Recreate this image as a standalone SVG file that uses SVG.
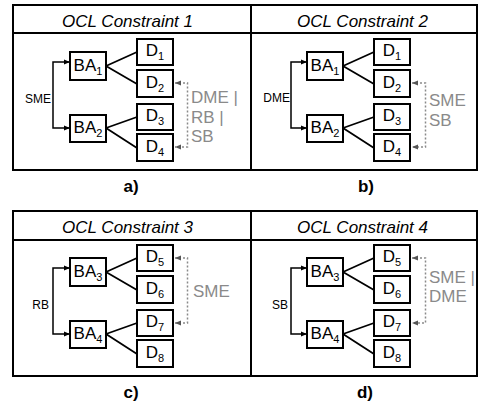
<svg xmlns="http://www.w3.org/2000/svg" width="479" height="401" viewBox="0 0 479 401">
<style>
.frame{fill:none;stroke:#000;stroke-width:2}
.box{fill:#fff;stroke:#000;stroke-width:2}
.t{font-family:"Liberation Sans",Arial,sans-serif;fill:#000}
.lbl{font-size:17px;text-anchor:middle}
.sub{font-size:11px}
.hdr{font-size:17px;font-style:italic;text-anchor:middle}
.cap{font-size:17px;font-weight:bold;text-anchor:middle}
.br{font-size:12px;text-anchor:end}
.gray{font-size:17px;fill:#8a8a8a}
.edge{fill:none;stroke:#000;stroke-width:1.8}
.brk{fill:none;stroke:#000;stroke-width:1.5}
.dash{fill:none;stroke:#8a8a8a;stroke-width:1.5;stroke-dasharray:2,2}
</style>
<defs>
<marker id="ah" viewBox="0 0 10 10" refX="10" refY="5" markerWidth="6" markerHeight="6" markerUnits="userSpaceOnUse" orient="auto-start-reverse"><path d="M0,1 L10,5 L0,9 z" fill="#000"/></marker>
<marker id="ag" viewBox="0 0 10 10" refX="10" refY="5" markerWidth="6" markerHeight="6" markerUnits="userSpaceOnUse" orient="auto-start-reverse"><path d="M0,1 L10,5 L0,9 z" fill="#555"/></marker>
</defs>

<g id="frames">
<rect class="frame" x="13" y="5" width="464" height="165"/>
<line class="frame" x1="13" y1="33" x2="477" y2="33"/>
<line class="frame" x1="251" y1="5" x2="251" y2="170"/>
<rect class="frame" x="13" y="211" width="464" height="165"/>
<line class="frame" x1="13" y1="240" x2="477" y2="240"/>
<line class="frame" x1="251" y1="211" x2="251" y2="376"/>
<text class="t hdr" x="127.5" y="27">OCL Constraint 1</text>
<text class="t hdr" x="362.5" y="27">OCL Constraint 2</text>
<text class="t hdr" x="127.5" y="233">OCL Constraint 3</text>
<text class="t hdr" x="362.5" y="233">OCL Constraint 4</text>
<text class="t cap" x="131" y="192">a)</text>
<text class="t cap" x="366" y="192">b)</text>
<text class="t cap" x="131" y="398">c)</text>
<text class="t cap" x="365" y="398">d)</text>
</g>

<!-- Panel a -->
<g id="connectors-a">
<path class="brk" d="M70 62 H53 V128 H70" marker-start="url(#ah)" marker-end="url(#ah)"/>
<path class="edge" d="M106 66 L137 52 M106 66 L137 84 M106 128 L137 117 M106 128 L137 148"/>
<path class="dash" d="M175 83 H187.5 V147 H175" marker-start="url(#ag)" marker-end="url(#ag)"/>
<text class="t br" x="51" y="103">SME</text>
<text class="t gray" x="191"><tspan x="191" y="103">DME |</tspan><tspan x="191" y="123">RB |</tspan><tspan x="191" y="142">SB</tspan></text>
</g>
<g id="a-BA1"><rect class="box" x="70" y="52" width="36" height="28"/><text class="t lbl" x="88" y="71">BA<tspan class="sub" dy="4">1</tspan></text></g>
<g id="a-BA2"><rect class="box" x="70" y="115" width="36" height="27"/><text class="t lbl" x="88" y="133">BA<tspan class="sub" dy="4">2</tspan></text></g>
<g id="a-D1"><rect class="box" x="137" y="39" width="36" height="26"/><text class="t lbl" x="155" y="56">D<tspan class="sub" dy="4">1</tspan></text></g>
<g id="a-D2"><rect class="box" x="137" y="70" width="36" height="27"/><text class="t lbl" x="155" y="88">D<tspan class="sub" dy="4">2</tspan></text></g>
<g id="a-D3"><rect class="box" x="137" y="104" width="36" height="26"/><text class="t lbl" x="155" y="121">D<tspan class="sub" dy="4">3</tspan></text></g>
<g id="a-D4"><rect class="box" x="137" y="134" width="36" height="27"/><text class="t lbl" x="155" y="152">D<tspan class="sub" dy="4">4</tspan></text></g>

<!-- Panel b -->
<g transform="translate(237,0)">
<g id="connectors-b">
<path class="brk" d="M70 62 H54 V128 H70" marker-start="url(#ah)" marker-end="url(#ah)"/>
<path class="edge" d="M106 66 L137 52 M106 66 L137 84 M106 128 L137 117 M106 128 L137 148"/>
<path class="dash" d="M175 83 H188.5 V147 H175" marker-start="url(#ag)" marker-end="url(#ag)"/>
<text class="t br" x="53" y="102">DME</text>
<text class="t gray" x="192"><tspan x="192" y="106">SME</tspan><tspan x="192" y="126">SB</tspan></text>
</g>
<g id="b-BA1"><rect class="box" x="70" y="52" width="36" height="28"/><text class="t lbl" x="88" y="71">BA<tspan class="sub" dy="4">1</tspan></text></g>
<g id="b-BA2"><rect class="box" x="70" y="115" width="36" height="27"/><text class="t lbl" x="88" y="133">BA<tspan class="sub" dy="4">2</tspan></text></g>
<g id="b-D1"><rect class="box" x="137" y="39" width="36" height="26"/><text class="t lbl" x="155" y="56">D<tspan class="sub" dy="4">1</tspan></text></g>
<g id="b-D2"><rect class="box" x="137" y="70" width="36" height="27"/><text class="t lbl" x="155" y="88">D<tspan class="sub" dy="4">2</tspan></text></g>
<g id="b-D3"><rect class="box" x="137" y="104" width="36" height="26"/><text class="t lbl" x="155" y="121">D<tspan class="sub" dy="4">3</tspan></text></g>
<g id="b-D4"><rect class="box" x="137" y="134" width="36" height="27"/><text class="t lbl" x="155" y="152">D<tspan class="sub" dy="4">4</tspan></text></g>
</g>

<!-- Panel c -->
<g transform="translate(0,206)">
<g id="connectors-c">
<path class="brk" d="M70 62 H53 V128 H70" marker-start="url(#ah)" marker-end="url(#ah)"/>
<path class="edge" d="M106 66 L137 52 M106 66 L137 84 M106 128 L137 117 M106 128 L137 148"/>
<path class="dash" d="M175 52 H187.5 V117 H175" marker-start="url(#ag)" marker-end="url(#ag)"/>
<text class="t br" x="49" y="103">RB</text>
<text class="t gray" x="193" y="91">SME</text>
</g>
<g id="c-BA3"><rect class="box" x="70" y="52" width="36" height="28"/><text class="t lbl" x="88" y="71">BA<tspan class="sub" dy="4">3</tspan></text></g>
<g id="c-BA4"><rect class="box" x="70" y="115" width="36" height="27"/><text class="t lbl" x="88" y="133">BA<tspan class="sub" dy="4">4</tspan></text></g>
<g id="c-D5"><rect class="box" x="137" y="39" width="36" height="26"/><text class="t lbl" x="155" y="56">D<tspan class="sub" dy="4">5</tspan></text></g>
<g id="c-D6"><rect class="box" x="137" y="70" width="36" height="27"/><text class="t lbl" x="155" y="88">D<tspan class="sub" dy="4">6</tspan></text></g>
<g id="c-D7"><rect class="box" x="137" y="104" width="36" height="26"/><text class="t lbl" x="155" y="121">D<tspan class="sub" dy="4">7</tspan></text></g>
<g id="c-D8"><rect class="box" x="137" y="134" width="36" height="27"/><text class="t lbl" x="155" y="152">D<tspan class="sub" dy="4">8</tspan></text></g>
</g>

<!-- Panel d -->
<g transform="translate(237,206)">
<g id="connectors-d">
<path class="brk" d="M70 62 H54 V128 H70" marker-start="url(#ah)" marker-end="url(#ah)"/>
<path class="edge" d="M106 66 L137 52 M106 66 L137 84 M106 128 L137 117 M106 128 L137 148"/>
<path class="dash" d="M175 52 H188.5 V117 H175" marker-start="url(#ag)" marker-end="url(#ag)"/>
<text class="t br" x="51" y="103">SB</text>
<text class="t gray" x="192"><tspan x="192" y="77">SME |</tspan><tspan x="192" y="96">DME</tspan></text>
</g>
<g id="d-BA3"><rect class="box" x="70" y="52" width="36" height="28"/><text class="t lbl" x="88" y="71">BA<tspan class="sub" dy="4">3</tspan></text></g>
<g id="d-BA4"><rect class="box" x="70" y="115" width="36" height="27"/><text class="t lbl" x="88" y="133">BA<tspan class="sub" dy="4">4</tspan></text></g>
<g id="d-D5"><rect class="box" x="137" y="39" width="36" height="26"/><text class="t lbl" x="155" y="56">D<tspan class="sub" dy="4">5</tspan></text></g>
<g id="d-D6"><rect class="box" x="137" y="70" width="36" height="27"/><text class="t lbl" x="155" y="88">D<tspan class="sub" dy="4">6</tspan></text></g>
<g id="d-D7"><rect class="box" x="137" y="104" width="36" height="26"/><text class="t lbl" x="155" y="121">D<tspan class="sub" dy="4">7</tspan></text></g>
<g id="d-D8"><rect class="box" x="137" y="134" width="36" height="27"/><text class="t lbl" x="155" y="152">D<tspan class="sub" dy="4">8</tspan></text></g>
</g>
</svg>
